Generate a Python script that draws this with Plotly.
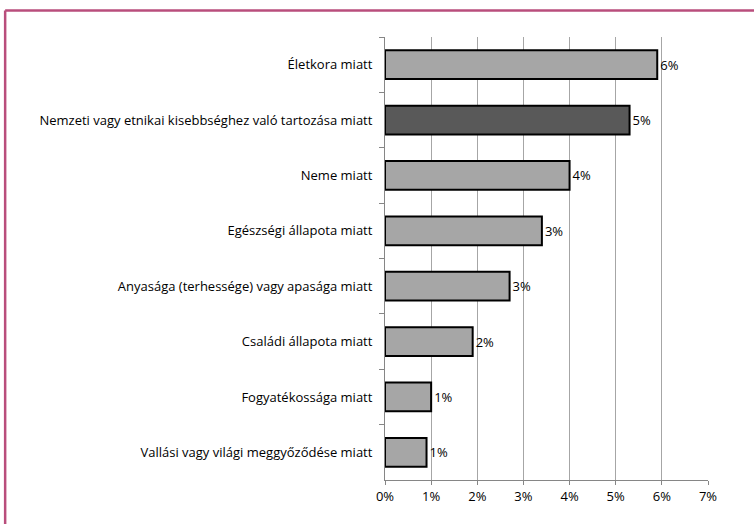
import plotly.graph_objects as go

categories = [
    "Életkora miatt",
    "Nemzeti vagy etnikai kisebbséghez való tartozása miatt",
    "Neme miatt",
    "Egészségi állapota miatt",
    "Anyasága (terhessége) vagy apasága miatt",
    "Családi állapota miatt",
    "Fogyatékossága miatt",
    "Vallási vagy világi meggyőződése miatt",
]
values = [0.059, 0.053, 0.040, 0.034, 0.027, 0.019, 0.010, 0.009]
bar_colors = ["#a6a6a6", "#595959", "#a6a6a6", "#a6a6a6",
              "#a6a6a6", "#a6a6a6", "#a6a6a6", "#a6a6a6"]
x_ticks = [0, 0.01, 0.02, 0.03, 0.04, 0.05, 0.06, 0.07]

FONT = "Open Sans, Noto Sans, sans-serif"

fig = go.Figure(
    go.Bar(
        x=values,
        y=categories,
        orientation="h",
        width=0.52,
        marker=dict(color=bar_colors, line=dict(color="black", width=2)),
        text=[f"{v:.0%}" for v in values],
        textposition="outside",
        textfont=dict(size=13, color="black", family=FONT),
        cliponaxis=False,
    )
)

fig.update_layout(
    width=754,
    height=524,
    margin=dict(l=385, r=46, t=37, b=44),
    paper_bgcolor="white",
    plot_bgcolor="white",
    showlegend=False,
    font=dict(family=FONT, size=13, color="black"),
    xaxis=dict(
        range=[0, 0.07],
        tickvals=x_ticks,
        tickformat=".0%",
        showgrid=True,
        gridcolor="#a6a6a6",
        gridwidth=1,
        zeroline=False,
        showline=True,
        linecolor="#868686",
        ticks="outside",
        ticklen=4,
        tickcolor="#868686",
        automargin=False,
    ),
    yaxis=dict(
        autorange="reversed",
        showline=True,
        linecolor="#868686",
        ticks="outside",
        tickson="boundaries",
        ticklen=5,
        tickcolor="#868686",
        ticklabelstandoff=9,
        showgrid=False,
        automargin=False,
    ),
)

# keret a grafik körül (bal és felső szél)
border = "#b94e7c"
fig.add_shape(type="line", xref="paper", yref="paper",
              x0=-1.176, x1=1.2, y0=1.06, y1=1.06,
              line=dict(color=border, width=2.5))
fig.add_shape(type="line", xref="paper", yref="paper",
              x0=-1.176, x1=-1.176, y0=1.06, y1=-0.2,
              line=dict(color=border, width=2.5))

# az oldal alapértelmezett margója nélkül
fig.write_html(
    "out.html",
    config={"displayModeBar": False},
    post_script="document.body.style.margin='0';",
)
